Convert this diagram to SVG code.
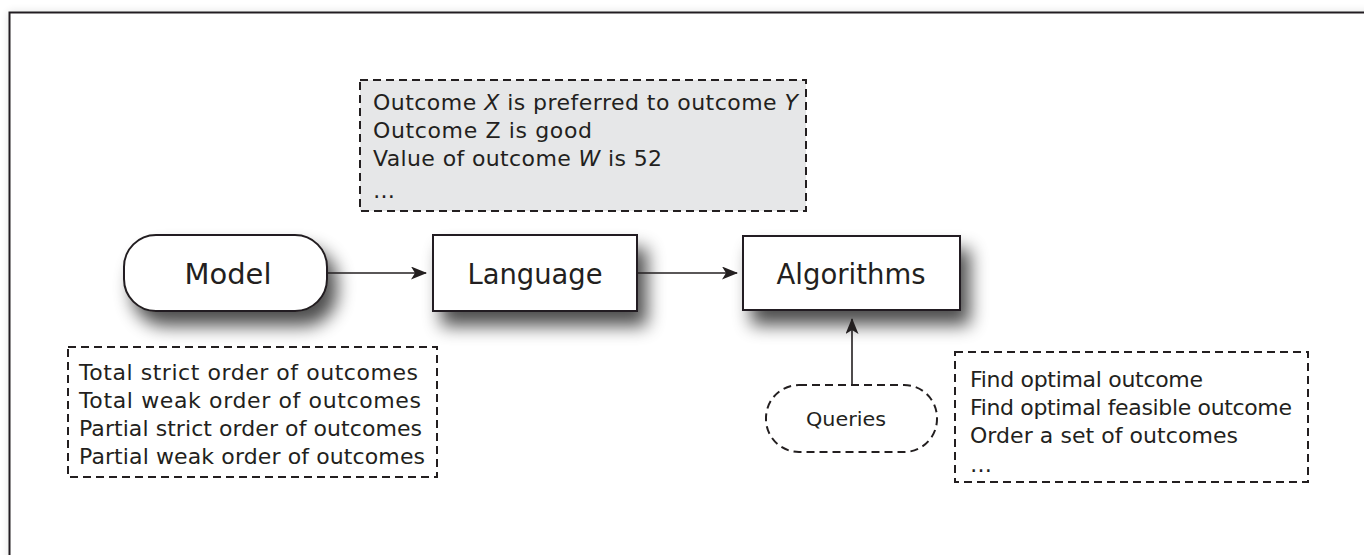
<svg xmlns="http://www.w3.org/2000/svg" width="1364" height="555" viewBox="0 0 1364 555">
<style>
text{font-family:"DejaVu Sans","Open Sans","Liberation Sans",sans-serif;fill:#231f20}
.lbl{font-size:29px;text-anchor:middle}
.list{font-size:22px}
.node{fill:#fff;stroke:#231f20;stroke-width:2}
.dash{fill:#fff;stroke:#231f20;stroke-width:2;stroke-dasharray:8 5}
.edge{stroke:#231f20;stroke-width:1.6;fill:none;marker-end:url(#ah)}
</style>
<defs>
<marker id="ah" markerWidth="16" markerHeight="13" refX="15" refY="6.5" orient="auto" markerUnits="userSpaceOnUse">
<path d="M0,0 L16,6.5 L0,13 L4,6.5 Z" fill="#231f20"/>
</marker>
<filter id="sh" x="-20%" y="-30%" width="150%" height="200%">
<feGaussianBlur in="SourceAlpha" stdDeviation="9"/>
<feOffset dx="9" dy="14" result="b"/>
<feComponentTransfer><feFuncA type="linear" slope="0.7"/></feComponentTransfer>
<feMerge><feMergeNode/><feMergeNode in="SourceGraphic"/></feMerge>
</filter>
<filter id="fsh" x="-5%" y="-5%" width="110%" height="110%">
<feGaussianBlur in="SourceAlpha" stdDeviation="4"/>
<feComponentTransfer><feFuncA type="linear" slope="0.12"/></feComponentTransfer>
<feMerge><feMergeNode/><feMergeNode in="SourceGraphic"/></feMerge>
</filter>
</defs>
<rect width="1364" height="555" fill="#fff"/>
<rect id="frame" x="9.5" y="12.5" width="1380" height="580" fill="#fff" stroke="#231f20" stroke-width="2" filter="url(#fsh)"/>

<g id="examples-box">
<rect x="360" y="80" width="446" height="131" fill="#e6e7e8" stroke="#231f20" stroke-width="2" stroke-dasharray="8 5"/>
<text class="list" x="373" y="110" textLength="425" lengthAdjust="spacing">Outcome <tspan font-style="italic">X</tspan> is preferred to outcome <tspan font-style="italic">Y</tspan></text>
<text class="list" x="373" y="138" textLength="219" lengthAdjust="spacing">Outcome Z is good</text>
<text class="list" x="373" y="166" textLength="289" lengthAdjust="spacing">Value of outcome <tspan font-style="italic">W</tspan> is 52</text>
<text class="list" x="373" y="198">…</text>
</g>

<g id="model">
<rect class="node" x="124" y="235" width="203" height="76" rx="32" filter="url(#sh)"/>
<text class="lbl" x="228" y="284" textLength="87" lengthAdjust="spacingAndGlyphs">Model</text>
</g>

<g id="language">
<rect class="node" x="433" y="235" width="204" height="76" filter="url(#sh)"/>
<text class="lbl" x="535" y="284" textLength="135" lengthAdjust="spacingAndGlyphs">Language</text>
</g>

<g id="algorithms">
<rect class="node" x="743" y="236" width="217" height="74" filter="url(#sh)"/>
<text class="lbl" x="851" y="284" textLength="149" lengthAdjust="spacingAndGlyphs">Algorithms</text>
</g>

<g id="queries">
<rect class="dash" x="766" y="385" width="171" height="67" rx="33"/>
<text x="846" y="426" font-size="20" text-anchor="middle" textLength="80" lengthAdjust="spacingAndGlyphs">Queries</text>
</g>

<g id="model-box">
<rect class="dash" x="68" y="347" width="369" height="130"/>
<text class="list" x="79" y="380" textLength="339" lengthAdjust="spacing">Total strict order of outcomes</text>
<text class="list" x="79" y="408" textLength="342" lengthAdjust="spacing">Total weak order of outcomes</text>
<text class="list" x="79" y="436" textLength="343" lengthAdjust="spacing">Partial strict order of outcomes</text>
<text class="list" x="79" y="464" textLength="346" lengthAdjust="spacing">Partial weak order of outcomes</text>
</g>

<g id="queries-box">
<rect class="dash" x="955" y="352" width="353" height="130"/>
<text class="list" x="970" y="387" textLength="233" lengthAdjust="spacing">Find optimal outcome</text>
<text class="list" x="970" y="415" textLength="322" lengthAdjust="spacing">Find optimal feasible outcome</text>
<text class="list" x="970" y="443" textLength="268" lengthAdjust="spacing">Order a set of outcomes</text>
<text class="list" x="970" y="472">…</text>
</g>

<g id="connectors">
<path class="edge" d="M327,273 H426"/>
<path class="edge" d="M637,273 H737"/>
<path class="edge" d="M852,385 V319"/>
</g>
</svg>
